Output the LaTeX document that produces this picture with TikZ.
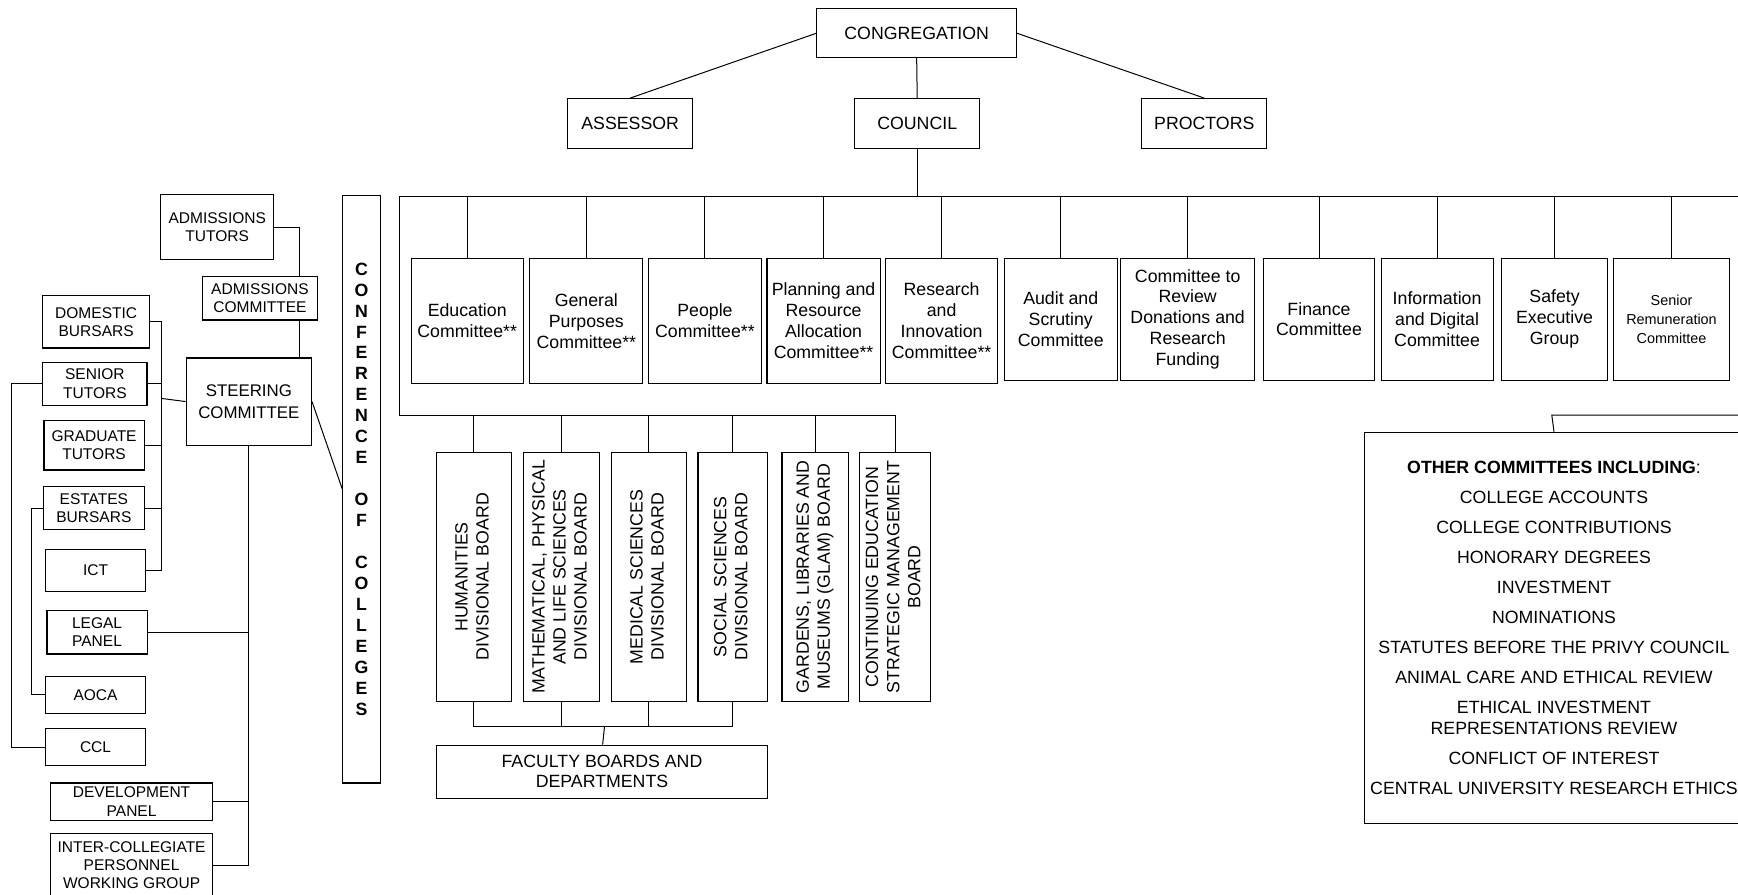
\documentclass[tikz,border=0pt]{standalone}
\usepackage{fontspec}
\setmainfont{Liberation Sans}
\usepackage{graphicx}
\begin{document}
\begin{tikzpicture}[x=0.5pt,y=-0.5pt,
  bx/.style={draw, line width=0.5pt, inner sep=0pt, align=center, font=\fontsize{8}{9.4}\selectfont},
  sbx/.style={bx, font=\fontsize{7}{8.3}\selectfont},
  rbx/.style={bx, font=\fontsize{8}{9.5}\selectfont},
  wh/.style 2 args={minimum width=#1*0.5pt, minimum height=#2*0.5pt},
  ln/.style={line width=0.45pt}]
\path[use as bounding box] (0,0) rectangle (1568,806.6);
\clip (0,0) rectangle (1568,806.6);
% top
\node[bx,wh={180}{44}] (cong) at (827,30) {CONGREGATION};
\node[bx,wh={113}{45}] (assess) at (568.5,111.5) {ASSESSOR};
\node[bx,wh={113}{45}] (council) at (827.5,111.5) {COUNCIL};
\node[bx,wh={113}{45}] (proct) at (1086.5,111.5) {PROCTORS};
% committees
\node[bx,wh={101}{113}] (edu) at (421.5,289.5) {Education\\Committee**};
\node[bx,wh={102}{113}] (gp) at (529,289.5) {General\\Purposes\\Committee**};
\node[bx,wh={102}{113}] (ppl) at (636,289.5) {People\\Committee**};
\node[bx,wh={102}{113}] (plan) at (743,289.5) {Planning and\\Resource\\Allocation\\Committee**};
\node[bx,wh={101}{113}] (res) at (849.5,289.5) {Research\\and\\Innovation\\Committee**};
\node[bx,wh={102}{110}] (aud) at (957,288) {Audit and\\Scrutiny\\Committee};
\node[bx,wh={121}{110}] (don) at (1071.5,288) {Committee to\\Review\\Donations and\\Research\\Funding};
\node[bx,wh={100}{110}] (fin) at (1190,288) {Finance\\Committee};
\node[bx,wh={101}{110}] (info) at (1296.5,288) {Information\\and Digital\\Committee};
\node[bx,wh={95}{110}] (saf) at (1402.5,288) {Safety\\Executive\\Group};
\node[bx,wh={104}{110},font=\fontsize{6.5}{8.7}\selectfont] (srem) at (1508,288) {Senior\\Remuneration\\Committee};
% divisional boards
\node[rbx,wh={68}{225}] (hum) at (427.5,520.5) {\rotatebox{90}{\begin{tabular}{@{}c@{}}HUMANITIES\\DIVISIONAL BOARD\end{tabular}}};
\node[rbx,wh={68}{225}] (math) at (506.5,520.5) {\rotatebox{90}{\begin{tabular}{@{}c@{}}MATHEMATICAL, PHYSICAL\\AND LIFE SCIENCES\\DIVISIONAL BOARD\end{tabular}}};
\node[rbx,wh={68}{225}] (med) at (585.5,520.5) {\rotatebox{90}{\begin{tabular}{@{}c@{}}MEDICAL SCIENCES\\DIVISIONAL BOARD\end{tabular}}};
\node[rbx,wh={62.5}{225}] (soc) at (661,520.5) {\rotatebox{90}{\begin{tabular}{@{}c@{}}SOCIAL SCIENCES\\DIVISIONAL BOARD\end{tabular}}};
\node[rbx,wh={60}{225}] (glam) at (735.5,520.5) {\rotatebox{90}{\begin{tabular}{@{}c@{}}GARDENS, LIBRARIES AND\\MUSEUMS (GLAM) BOARD\end{tabular}}};
\node[rbx,wh={64}{225}] (cont) at (807.5,520.5) {\rotatebox{90}{\begin{tabular}{@{}c@{}}CONTINUING EDUCATION\\STRATEGIC MANAGEMENT\\BOARD\end{tabular}}};
\node[bx,wh={299}{48},font=\fontsize{8}{9}\selectfont] (fac) at (543.1,696.3) {FACULTY BOARDS AND\\DEPARTMENTS};
% other committees
\node[bx,wh={342}{353},font=\fontsize{8}{9.5}\selectfont] (oc) at (1402,566.5) {\textbf{OTHER COMMITTEES INCLUDING}:\\[4pt]COLLEGE ACCOUNTS\\[4pt]COLLEGE CONTRIBUTIONS\\[4pt]HONORARY DEGREES\\[4pt]INVESTMENT\\[4pt]NOMINATIONS\\[4pt]STATUTES BEFORE THE PRIVY COUNCIL\\[4pt]ANIMAL CARE AND ETHICAL REVIEW\\[4pt]ETHICAL INVESTMENT\\REPRESENTATIONS REVIEW\\[4pt]CONFLICT OF INTEREST\\[4pt]CENTRAL UNIVERSITY RESEARCH ETHICS};
% left side
\node[sbx,wh={102}{59}] (admt) at (196,205) {ADMISSIONS\\TUTORS};
\node[sbx,wh={104}{39}] (admc) at (234.5,269.25) {ADMISSIONS\\COMMITTEE};
\node[bx,wh={113}{78.6},font=\fontsize{7.6}{9.8}\selectfont] (steer) at (224.5,362.3) {STEERING\\COMMITTEE};
\node[sbx,wh={96.5}{47}] (dom) at (86.75,290.5) {DOMESTIC\\BURSARS};
\node[sbx,wh={94}{38.5}] (sen) at (85.6,346.25) {SENIOR\\TUTORS};
\node[sbx,wh={90.3}{44.3}] (grad) at (84.85,401.85) {GRADUATE\\TUTORS};
\node[sbx,wh={90.6}{39}] (est) at (84.7,458.5) {ESTATES\\BURSARS};
\node[sbx,wh={90.6}{38.4}] (ict) at (86.2,514.8) {ICT};
\node[sbx,wh={90.3}{39.4}] (legal) at (87.55,570.3) {LEGAL\\PANEL};
\node[sbx,wh={90.6}{33.6}] (aoca) at (86.2,626.8) {AOCA};
\node[sbx,wh={90.6}{34}] (ccl) at (86.2,674) {CCL};
\node[sbx,wh={146.6}{33.6}] (dev) at (118.7,723.2) {DEVELOPMENT\\PANEL};
\node[sbx,wh={146.6}{57}] (icp) at (118.7,780.5) {INTER-COLLEGIATE\\PERSONNEL\\WORKING GROUP};
\node[bx,wh={33.7}{530.4},font=\fontsize{8}{9.45}\selectfont\bfseries] (conf) at (326.15,441.2)
  {C\\O\\N\\F\\E\\R\\E\\N\\C\\E\\[9.45pt]O\\F\\[9.45pt]C\\O\\L\\L\\E\\G\\E\\S};
% connectors
\coordinate (busL) at (360,177);
\coordinate (busR) at (1568,177);
\coordinate (divL) at (360,374.5);
\draw[ln] (cong.west) -- (assess.north);
\draw[ln] (cong.east) -- (proct.north);
\draw[ln] (cong.south) -- (council.north);
\draw[ln] (council.south) -- (council.south |- busL);
\draw[ln] (busR) -- (busL) -- (divL) -- (cont.north |- divL);
\foreach \n in {edu,gp,ppl,plan,res,aud,don,fin,info,saf,srem} \draw[ln] (\n.north) -- (\n.north |- busL);
\foreach \n in {hum,math,med,soc,glam,cont} \draw[ln] (\n.north) -- (\n.north |- divL);
\coordinate (fbus) at (0,655);
\draw[ln] (hum.south) -- (hum.south |- fbus) -- (soc.south |- fbus) -- (soc.south);
\draw[ln] (math.south) -- (math.south |- fbus);
\draw[ln] (med.south) -- (med.south |- fbus);
\coordinate (fj) at (545.4,655);
\coordinate (fj2) at (543.7,0);
\draw[ln] (fj) -- (fac.north -| fj2);
\coordinate (ocR) at (1568,374.5);
\coordinate (ocj) at (1400,374.5);
\draw[ln] (ocR) -- (ocj) -- (oc.north);
\coordinate (ax) at (270,205);
\draw[ln] (admt.east) -- (admt.east -| ax) -- (ax |- admc.north);
\draw[ln] (ax |- admc.south) -- (ax |- steer.north);
\coordinate (brk) at (146,359.5);
\draw[ln] (dom.east) -- (dom.east -| brk) -- (brk |- ict.east) -- (ict.east);
\foreach \n in {sen,grad,est} \draw[ln] (\n.east) -- (\n.east -| brk);
\draw[ln] (brk) -- (steer.west);
\coordinate (ox) at (10.8,0);
\draw[ln] (sen.west) -- (sen.west -| ox) -- (ox |- ccl.west) -- (ccl.west);
\coordinate (ix) at (28.6,0);
\draw[ln] (est.west) -- (est.west -| ix) -- (ix |- aoca.west) -- (aoca.west);
\draw[ln] (steer.south) -- (steer.south |- icp.east) -- (icp.east);
\draw[ln] (legal.east) -- (legal.east -| steer.south);
\draw[ln] (dev.east) -- (dev.east -| steer.south);
\draw[ln] (steer.east) -- (conf.west);
\end{tikzpicture}
\end{document}
